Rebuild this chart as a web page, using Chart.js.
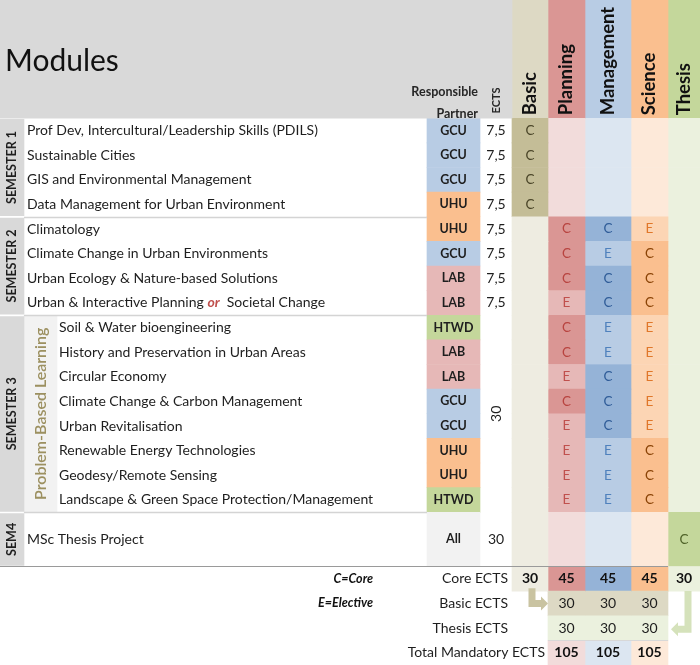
<!DOCTYPE html>
<html>
<head>
<meta charset="utf-8">
<script src="https://cdn.jsdelivr.net/npm/chart.js@4.4.0/dist/chart.umd.min.js"></script>
<style>
  html, body { margin: 0; padding: 0; background: #fff; }
  #wrap { width: 700px; height: 665px; position: relative; }
</style>
</head>
<body>
<div id="wrap"><canvas id="chart"></canvas></div>
<script>
// ========= DATA ========= //
const modules = [
  "Prof Dev, Intercultural/Leadership Skills (PDILS)",
  "Sustainable Cities",
  "GIS and Environmental Management",
  "Data Management for Urban Environment",
  "Climatology",
  "Climate Change in Urban Environments",
  "Urban Ecology & Nature-based Solutions",
  "Urban & Interactive Planning or Societal Change",
  "Soil & Water bioengineering",
  "History and Preservation in Urban Areas",
  "Circular Economy",
  "Climate Change & Carbon Management",
  "Urban Revitalisation",
  "Renewable Energy Technologies",
  "Geodesy/Remote Sensing",
  "Landscape & Green Space Protection/Management",
  "MSc Thesis Project"
];
const partners = ["GCU", "GCU", "GCU", "UHU", "UHU", "GCU", "LAB", "LAB",
  "HTWD", "LAB", "LAB", "GCU", "GCU", "UHU", "UHU", "HTWD", "All"];
const moduleEcts = ["7,5", "7,5", "7,5", "7,5", "7,5", "7,5", "7,5", "7,5",
  "", "", "", "", "", "", "", "", ""];

const semesters = ["SEMESTER 1", "SEMESTER 2", "SEMESTER 3", "SEM4"];
const semesterSize = [4, 4, 8, 1];
const semesterEcts = ["", "", "30", "30"];
const pblLabel = "Problem-Based Learning";

const tracks = ["Basic", "Planning", "Management", "Science", "Thesis"];
const basic      = ["C", "C", "C", "C", "", "", "", "", "", "", "", "", "", "", "", "", ""];
const planning   = ["", "", "", "", "C", "C", "C", "E", "C", "C", "E", "C", "E", "E", "E", "E", ""];
const management = ["", "", "", "", "C", "E", "C", "C", "E", "E", "C", "C", "C", "E", "E", "E", ""];
const science    = ["", "", "", "", "E", "C", "C", "C", "E", "E", "E", "E", "E", "C", "C", "C", ""];
const thesis     = ["", "", "", "", "", "", "", "", "", "", "", "", "", "", "", "", "C"];

const summaryLabels = ["Core ECTS", "Basic ECTS", "Thesis ECTS", "Total Mandatory ECTS"];
const legendLabels = ["C=Core", "E=Elective"];
const coreEcts = [30, 45, 45, 45, 30];     // Basic, Planning, Management, Science, Thesis
const basicEcts = [30, 30, 30];            // Planning, Management, Science
const thesisEcts = [30, 30, 30];
const totalEcts = [105, 105, 105];

// ========= LAYOUT ========= //
const HEADER = 4.8;          // header height, in row units
const THESIS_ROW = 2.2;      // height of the SEM4 row
const SUM_TOP = HEADER + 16 + THESIS_ROW;
const cols = {
  head: [0, 512], sem: [0, 24], pbl: [24, 57], partner: [427, 480], ects: [480, 512],
  basic: [512, 548], planning: [548, 585], management: [585, 631], science: [631, 668], thesis: [668, 700]
};
const FONT = "Lato, 'Open Sans', sans-serif";

const colors = {
  head: "#d9d9d9", semBox: "#d9d9d9", pbl: "#f2f2f2",
  partner: { GCU: "#b8cce4", UHU: "#fabf8f", LAB: "#e6b8b7", HTWD: "#c4d79b", All: "#f2f2f2" },
  basic:      { head: "#ddd9c4", C: "#c4bd97", E: "#c4bd97", none: "#eeece1", textC: "#4a4528" },
  planning:   { head: "#da9694", C: "#da9694", E: "#e6b8b7", none: "#f2dcdb", textC: "#b8433f", textE: "#c0504d" },
  management: { head: "#b8cce4", C: "#95b3d7", E: "#b8cce4", none: "#dce6f1", textC: "#2f5c98", textE: "#4f81bd" },
  science:    { head: "#fabf8f", C: "#fabf8f", E: "#fcd5b4", none: "#fde9d9", textC: "#8a4306", textE: "#e0772a" },
  thesis:     { head: "#c4d79b", C: "#c4d79b", E: "#c4d79b", none: "#ebf1de", textC: "#4f6228" }
};
const trackData = { basic, planning, management, science, thesis };
const trackKeys = ["basic", "planning", "management", "science", "thesis"];

function rowTop(i) { return HEADER + i; }
function rowBottom(i) { return i < 16 ? HEADER + i + 1 : HEADER + 16 + THESIS_ROW; }
function semStart(s) { return semesterSize.slice(0, s).reduce((a, b) => a + b, 0); }
function semEnd(s) { return semStart(s) + semesterSize[s] - 1; }

// ========= DATASETS ========= //
function colDataset(col, cells) {
  const [x0, x1] = cols[col];
  return {
    data: cells.map(c => ({ x: (x0 + x1) / 2, y: [c.top, c.bottom] })),
    backgroundColor: cells.map(c => c.color),
    barThickness: x1 - x0,
    stack: "grid",
    borderWidth: 0
  };
}

const datasets = [];
datasets.push(colDataset("head", [{ top: 0, bottom: HEADER, color: colors.head }]));
datasets.push(colDataset("sem", semesters.map((s, k) => ({
  top: rowTop(semStart(k)) + 0.05, bottom: rowBottom(semEnd(k)) - 0.04, color: colors.semBox
}))));
datasets.push(colDataset("pbl", [{ top: rowTop(semStart(2)), bottom: rowBottom(semEnd(2)), color: colors.pbl }]));
datasets.push(colDataset("partner", partners.map((p, i) => ({
  top: rowTop(i), bottom: rowBottom(i), color: colors.partner[p]
}))));

trackKeys.forEach((key, t) => {
  const pal = colors[key];
  const vals = trackData[key];
  const cells = [{ top: 0, bottom: HEADER, color: pal.head }];
  vals.forEach((v, i) => cells.push({ top: rowTop(i), bottom: rowBottom(i), color: v ? pal[v] : pal.none }));
  // summary rows
  if (key === "basic" || key === "thesis") {
    cells.push({ top: SUM_TOP, bottom: SUM_TOP + 1, color: pal.none });
  } else {
    cells.push({ top: SUM_TOP, bottom: SUM_TOP + 1, color: pal.C });
    cells.push({ top: SUM_TOP + 1, bottom: SUM_TOP + 2, color: colors.basic.head });
    cells.push({ top: SUM_TOP + 2, bottom: SUM_TOP + 3, color: colors.thesis.none });
    cells.push({ top: SUM_TOP + 3, bottom: SUM_TOP + 4, color: pal.none });
  }
  datasets.push(colDataset(key, cells));
});

// ========= TEXT / LINES PLUGIN ========= //
const tablePlugin = {
  id: "tableText",
  afterDatasetsDraw(chart) {
    const { ctx, scales: { x, y } } = chart;
    const px = v => x.getPixelForValue(v);
    const py = v => y.getPixelForValue(v);
    const mid = c => px((cols[c][0] + cols[c][1]) / 2);

    function text(str, X, Y, font, color, align, rot) {
      ctx.save();
      ctx.font = font;
      ctx.fillStyle = color;
      ctx.textAlign = align || "center";
      ctx.textBaseline = "middle";
      ctx.translate(X, Y);
      if (rot) ctx.rotate(-Math.PI / 2);
      ctx.fillText(str, 0, 0);
      ctx.restore();
    }
    function hline(yv, x0, x1, color, w) {
      ctx.save();
      ctx.strokeStyle = color;
      ctx.lineWidth = w;
      ctx.beginPath();
      ctx.moveTo(px(x0), Math.round(py(yv)) + 0.5);
      ctx.lineTo(px(x1), Math.round(py(yv)) + 0.5);
      ctx.stroke();
      ctx.restore();
    }

    // separators
    [1, 2, 3].forEach(s => hline(rowTop(semStart(s)), 24, 427, "#d4d4d4", 1.5));
    hline(SUM_TOP, 0, 668, "#9a9a9a", 1);
    hline(SUM_TOP + 3, 548, 668, "#d8d8d8", 1);

    // header
    text("Modules", px(5), py(2.48), `30px ${FONT}`, "#111", "left");
    text("Responsible", px(478), py(3.74), `bold 12.5px ${FONT}`, "#262626", "right");
    text("Partner", px(478), py(4.62), `bold 12.5px ${FONT}`, "#262626", "right");
    text("ECTS", mid("ects"), py(4.08), `bold 11px ${FONT}`, "#262626", "center", true);
    tracks.forEach((t, k) => {
      text(t, mid(trackKeys[k]), py(4.68), `bold 18.5px ${FONT}`, "#111", "left", true);
    });

    // semester labels
    semesters.forEach((s, k) => {
      const yc = (rowTop(semStart(k)) + rowBottom(semEnd(k))) / 2;
      text(s, mid("sem"), py(yc), `bold 12.5px ${FONT}`, "#1e1e1e", "center", true);
      if (semesterEcts[k]) {
        text(semesterEcts[k], mid("ects"), py(yc), `14px ${FONT}`, "#1e1e1e", "center", k === 2);
      }
    });
    const pblMid = (rowTop(semStart(2)) + rowBottom(semEnd(2))) / 2;
    text(pblLabel, mid("pbl"), py(pblMid), `600 16px ${FONT}`, "#9c9060", "center", true);

    // module rows
    modules.forEach((m, i) => {
      const yc = py((rowTop(i) + rowBottom(i)) / 2);
      const xl = i >= semStart(2) && i <= semEnd(2) ? 59 : 27;
      if (m.includes(" or ")) {
        const [a, b] = m.split(" or ");
        ctx.save();
        ctx.font = `14px ${FONT}`;
        const wa = ctx.measureText(a + " ").width;
        ctx.font = `bold italic 14px ${FONT}`;
        const wo = ctx.measureText("or").width;
        ctx.restore();
        text(a + " ", px(xl), yc, `14px ${FONT}`, "#1e1e1e", "left");
        text("or", px(xl) + wa, yc, `bold italic 14px ${FONT}`, "#c0504d", "left");
        text("  " + b, px(xl) + wa + wo, yc, `14px ${FONT}`, "#1e1e1e", "left");
      } else {
        text(m, px(xl), yc, `14px ${FONT}`, "#1e1e1e", "left");
      }
      text(partners[i], mid("partner"), yc, `bold 12.5px ${FONT}`, "#1e1e1e");
      if (moduleEcts[i]) text(moduleEcts[i], mid("ects"), yc, `14px ${FONT}`, "#1e1e1e");
      trackKeys.forEach(key => {
        const v = trackData[key][i];
        if (!v) return;
        const pal = colors[key];
        text(v, mid(key), yc, `13.5px ${FONT}`, v === "C" ? pal.textC : pal.textE);
      });
    });

    // summary
    const sy = k => py(SUM_TOP + k + 0.5);
    text(legendLabels[0], px(373), sy(0), `bold italic 12.5px ${FONT}`, "#111", "right");
    text(legendLabels[1], px(373), sy(1), `bold italic 12.5px ${FONT}`, "#111", "right");
    summaryLabels.forEach((l, k) => {
      text(l, px(k === 3 ? 545 : 508), sy(k), `14px ${FONT}`, "#1e1e1e", "right");
    });
    coreEcts.forEach((v, k) => text(String(v), mid(trackKeys[k]), sy(0), `bold 14px ${FONT}`, "#111"));
    ["planning", "management", "science"].forEach((key, k) => {
      text(String(basicEcts[k]), mid(key), sy(1), `14px ${FONT}`, "#1e1e1e");
      text(String(thesisEcts[k]), mid(key), sy(2), `14px ${FONT}`, "#1e1e1e");
      text(String(totalEcts[k]), mid(key), sy(3), `bold 14px ${FONT}`, "#111");
    });

    // arrows from Core ECTS to Basic / Thesis ECTS rows
    function arrow(points, color, dir) {
      ctx.save();
      ctx.strokeStyle = color;
      ctx.fillStyle = color;
      ctx.lineWidth = 7;
      ctx.lineJoin = "miter";
      ctx.beginPath();
      points.forEach((p, k) => {
        const X = px(p[0]), Y = py(p[1]);
        if (k === 0) ctx.moveTo(X, Y); else ctx.lineTo(X, Y);
      });
      ctx.stroke();
      const last = points[points.length - 1];
      const X = px(last[0]), Y = py(last[1]);
      ctx.beginPath();
      ctx.moveTo(X + dir * 7, Y);
      ctx.lineTo(X, Y - 7);
      ctx.lineTo(X, Y + 7);
      ctx.closePath();
      ctx.fill();
      ctx.restore();
    }
    arrow([[532, SUM_TOP + 0.88], [532, SUM_TOP + 1.5], [541, SUM_TOP + 1.5]], "#c9c3a1", 1);
    arrow([[688, SUM_TOP + 1.0], [688, SUM_TOP + 2.55], [678, SUM_TOP + 2.55]], "#d5e2bb", -1);
  }
};

// ========= CHART ========= //
new Chart(document.getElementById("chart"), {
  type: "bar",
  data: { datasets },
  options: {
    responsive: true,
    maintainAspectRatio: false,
    animation: false,
    layout: { padding: 0 },
    plugins: { legend: { display: false }, tooltip: { enabled: false } },
    scales: {
      x: { type: "linear", min: 0, max: 700, offset: false, display: false },
      y: { type: "linear", min: 0, max: 27, reverse: true, stacked: false, display: false }
    }
  },
  plugins: [tablePlugin]
});
</script>
</body>
</html>
